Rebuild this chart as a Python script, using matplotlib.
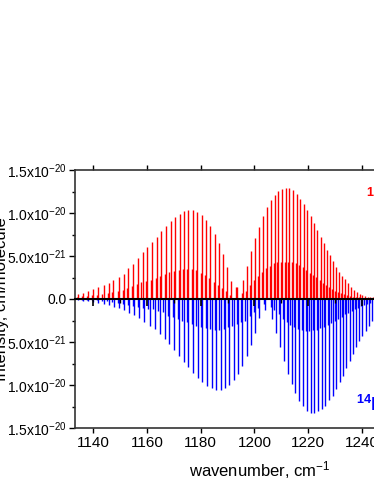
"""Two-isotopologue stick spectrum, mirrored about zero."""

import matplotlib
matplotlib.use("Agg")
import matplotlib.pyplot as plt
import numpy as np
from matplotlib.ticker import FuncFormatter, MultipleLocator

plt.rcParams["font.family"] = ["Liberation Sans", "DejaVu Sans"]
plt.rcParams["mathtext.fontset"] = "custom"
plt.rcParams["mathtext.rm"] = "Liberation Sans"
plt.rcParams["mathtext.it"] = "Liberation Sans:italic"
plt.rcParams["mathtext.bf"] = "Liberation Sans:bold"

SCALE = 1e-21  # intensities below are in units of 1e-21 cm/molecule

# upper panel (red): strong lines
red_main_pos = [
    1134.5, 1136.4, 1138.2, 1140.1, 1141.9, 1143.9, 1145.8, 1147.6, 1149.5, 1151.4,
    1153.1, 1154.8, 1156.6, 1158.4, 1160.2, 1161.9, 1163.8, 1165.4, 1167.2, 1168.8,
    1170.4, 1172.2, 1173.8, 1175.4, 1177.1, 1178.7, 1180.4, 1182.0, 1183.6, 1185.2,
    1186.8, 1188.3, 1189.8, 1191.3, 1193.4, 1195.6, 1197.1, 1198.7, 1200.2, 1201.7,
    1203.2, 1204.6, 1206.1, 1207.5, 1208.8, 1210.2, 1211.6, 1212.9, 1214.4, 1215.8,
    1217.1, 1218.4, 1219.7, 1221.0, 1222.2, 1223.4, 1224.6, 1225.8, 1226.9, 1228.1,
    1229.2, 1230.4, 1231.5, 1232.6, 1233.7, 1234.8, 1235.9, 1237.0, 1238.0, 1239.1,
    1240.1, 1241.1, 1242.1, 1243.1, 1244.1,
]
red_main_int = [
    0.58, 0.74, 0.93, 1.12, 1.36, 1.63, 1.9, 2.17, 2.6, 2.9,
    3.57, 4.1, 4.73, 5.43, 6.0, 6.6, 7.25, 7.9, 8.5, 9.07,
    9.53, 9.9, 10.2, 10.35, 10.35, 10.1, 9.77, 9.2, 8.5, 7.56,
    6.47, 5.2, 3.7, 2.1, 1.36, 2.2, 3.84, 5.58, 7.05, 8.37,
    9.65, 10.66, 11.5, 12.13, 12.6, 12.83, 12.94, 12.87, 12.7, 12.2,
    11.67, 11.05, 10.35, 9.65, 8.88, 8.02, 7.25, 6.47, 5.7, 5.12,
    4.38, 3.76, 3.17, 2.67, 2.29, 1.82, 1.43, 1.05, 0.78, 0.58,
    0.43, 0.35, 0.27, 0.23, 0.2,
]

# upper panel (red): weak lines
red_weak_pos = [
    1134.1, 1136.0, 1137.8, 1139.7, 1141.5, 1143.5, 1145.4, 1147.2, 1149.1, 1151.0,
    1152.7, 1154.4, 1156.2, 1158.0, 1159.8, 1161.5, 1163.4, 1165.0, 1166.8, 1168.4,
    1170.0, 1171.8, 1173.4, 1175.0, 1176.7, 1178.3, 1180.0, 1181.6, 1183.2, 1184.8,
    1186.4, 1187.9, 1189.4, 1190.9, 1193.0, 1195.2, 1196.7, 1198.3, 1199.8, 1201.3,
    1202.8, 1204.2, 1205.7, 1207.1, 1208.4, 1209.8, 1211.2, 1212.5, 1214.0, 1215.4,
    1216.7, 1218.0, 1219.3, 1220.6, 1221.8, 1223.0, 1224.2, 1225.4, 1226.5, 1227.7,
    1228.8, 1230.0, 1231.1, 1232.2, 1233.3, 1234.4, 1235.5, 1236.6, 1237.6, 1238.7,
    1239.7, 1240.7, 1241.7, 1242.7, 1243.7,
]
red_weak_int = [
    0.25, 0.3, 0.36, 0.43, 0.5, 0.6, 0.7, 0.82, 0.95, 1.1,
    1.28, 1.48, 1.7, 1.92, 2.1, 2.25, 2.48, 2.67, 2.9, 3.1,
    3.26, 3.37, 3.45, 3.49, 3.45, 3.37, 3.06, 2.79, 2.48, 2.01,
    1.6, 1.25, 0.9, 0.46, 1.4, 0.66, 0.97, 1.63, 2.2, 2.67,
    3.17, 3.57, 3.84, 4.15, 4.26, 4.3, 4.34, 4.34, 4.3, 4.15,
    3.95, 3.68, 3.37, 3.06, 2.79, 2.52, 2.2, 1.9, 1.63, 1.43,
    1.2, 0.97, 0.81, 0.66, 0.54, 0.43, 0.35, 0.27, 0.23, 0.2,
    0.15, 0.12, 0.1, 0.08, 0.07,
]

# lower panel (blue, drawn downward): strong lines
blue_main_pos = [
    1134.4, 1136.3, 1138.2, 1140.1, 1142.0, 1143.9, 1145.8, 1147.7, 1149.6, 1151.5,
    1153.4, 1155.3, 1157.2, 1159.1, 1161.0, 1162.9, 1164.8, 1166.6, 1168.3, 1170.1,
    1171.9, 1173.7, 1175.4, 1177.1, 1178.9, 1180.6, 1182.3, 1184.1, 1185.8, 1187.4,
    1189.0, 1190.6, 1192.3, 1193.9, 1195.5, 1197.1, 1198.7, 1200.2, 1201.8, 1203.9,
    1206.6, 1207.9, 1209.5, 1211.0, 1212.5, 1213.8, 1215.2, 1216.7, 1218.1, 1219.5,
    1220.9, 1222.2, 1223.6, 1225.0, 1226.3, 1227.7, 1229.1, 1230.4, 1231.7, 1232.9,
    1234.1, 1235.4, 1236.6, 1237.8, 1238.9, 1240.1, 1241.3, 1242.4, 1243.6,
]
blue_main_int = [
    0.12, 0.18, 0.25, 0.33, 0.42, 0.55, 0.7, 0.88, 1.08, 1.3,
    1.58, 1.9, 2.25, 2.65, 3.1, 3.5, 4.07, 4.65, 5.23, 5.93,
    6.59, 7.29, 7.94, 8.64, 9.19, 9.69, 10.08, 10.38, 10.58, 10.58,
    10.4, 10.0, 9.4, 8.7, 7.8, 6.6, 5.3, 3.9, 2.2, 1.3,
    2.3, 3.9, 5.6, 7.2, 8.7, 9.9, 10.97, 11.9, 12.4, 12.98,
    13.2, 13.26, 13.06, 12.8, 12.4, 11.8, 11.24, 10.46, 9.69, 8.92,
    8.02, 7.17, 6.4, 5.62, 4.85, 4.26, 3.68, 3.1, 2.52,
]

# lower panel (blue): weak lines
blue_weak_pos = [
    1133.9, 1135.8, 1137.7, 1139.6, 1141.5, 1143.4, 1145.3, 1147.2, 1149.1, 1151.0,
    1152.9, 1154.8, 1156.7, 1158.6, 1160.5, 1162.4, 1164.3, 1166.1, 1167.8, 1169.6,
    1171.4, 1173.2, 1174.9, 1176.6, 1178.4, 1180.1, 1181.8, 1183.6, 1185.3, 1186.9,
    1188.5, 1190.1, 1191.8, 1193.4, 1195.0, 1196.6, 1198.2, 1199.7, 1201.3, 1203.5,
    1206.1, 1207.4, 1209.0, 1210.5, 1212.0, 1213.3, 1214.7, 1216.2, 1217.6, 1219.0,
    1220.4, 1221.7, 1223.1, 1224.5, 1225.8, 1227.2, 1228.6, 1229.9, 1231.2, 1232.4,
    1233.6, 1234.9, 1236.1, 1237.3, 1238.4, 1239.6, 1240.8, 1241.9, 1243.1,
]
blue_weak_int = [
    0.05, 0.08, 0.1, 0.13, 0.17, 0.22, 0.28, 0.35, 0.45, 0.55,
    0.68, 0.82, 0.98, 1.1, 1.16, 1.2, 1.36, 1.55, 1.94, 2.1,
    2.33, 2.52, 2.71, 2.9, 3.1, 3.3, 3.4, 3.5, 3.57, 3.57,
    3.5, 3.3, 3.1, 2.9, 2.7, 2.5, 1.94, 1.55, 1.0, 0.6,
    0.9, 1.3, 1.8, 2.3, 2.7, 3.0, 3.3, 3.5, 3.65, 3.7,
    3.7, 3.65, 3.55, 3.4, 3.2, 3.0, 2.8, 2.55, 2.3, 2.05,
    1.8, 1.6, 1.4, 1.2, 1.0, 0.85, 0.7, 0.58, 0.47,
]

RED = "#ff0000"
BLUE = "#0000ff"
LW = 1.0


def sci_label(v, pos):
    if abs(v) < 1e-30:
        return "0.0"
    v = abs(v)
    exp = int(np.floor(np.log10(v) + 1e-9))
    return rf"{v / 10**exp:.1f}x10$^{{{exp}}}$"


fig = plt.figure(figsize=(3.74, 4.84), dpi=100)
# the original chart is cropped on the right, so the axes run past the figure edge
ax = fig.add_axes([75 / 374, 56 / 484, 370 / 374, 258 / 484])

ax.vlines(red_main_pos, 0, np.array(red_main_int) * SCALE, color=RED, lw=LW)
ax.vlines(red_weak_pos, 0, np.array(red_weak_int) * SCALE, color=RED, lw=LW)
ax.vlines(blue_main_pos, -np.array(blue_main_int) * SCALE, 0, color=BLUE, lw=LW)
ax.vlines(blue_weak_pos, -np.array(blue_weak_int) * SCALE, 0, color=BLUE, lw=LW)

ax.set_xlim(1133.3, 1270.8)
ax.set_ylim(-1.5e-20, 1.5e-20)

# zero line with its own ticks
zax = ax.twiny()
zax.set_xlim(ax.get_xlim())
for side in ("top", "left", "right"):
    zax.spines[side].set_visible(False)
zax.spines["bottom"].set_position(("data", 0))
zax.spines["bottom"].set_linewidth(1.5)
zax.spines["bottom"].set_color("black")
zax.xaxis.set_ticks_position("bottom")
zax.xaxis.set_major_locator(MultipleLocator(20))
zax.xaxis.set_minor_locator(MultipleLocator(10))
zax.tick_params(axis="x", which="major", direction="out", length=5, width=1.2,
                labelbottom=False, labeltop=False)
zax.tick_params(axis="x", which="minor", direction="out", length=3, width=1.0)

for side in ("left", "bottom", "top", "right"):
    ax.spines[side].set_linewidth(1.2)
    ax.spines[side].set_color("#333333")

ax.xaxis.set_major_locator(MultipleLocator(20))
ax.yaxis.set_major_locator(MultipleLocator(5e-21))
ax.yaxis.set_minor_locator(MultipleLocator(2.5e-21))
ax.yaxis.set_major_formatter(FuncFormatter(sci_label))
ax.tick_params(axis="x", which="major", direction="out", length=3.5, width=1,
               top=True, labeltop=False, labelsize=11, pad=2)
ax.tick_params(axis="y", which="major", direction="out", length=4, width=1,
               labelsize=10, pad=2)
ax.tick_params(axis="y", which="minor", direction="out", length=2, width=1)

ax.set_xlabel(r"wavenumber, cm$^{-1}$", fontsize=12)
ax.xaxis.set_label_coords(0.5, -0.12)
ax.set_ylabel("Intensity, cm/molecule", fontsize=12)
ax.yaxis.set_label_coords(-0.178, 0.5)

ax.text(1241.6, 11.0e-21, r"$^{\mathbf{15}}\mathbf{N}_{\mathbf{2}}\mathbf{O}$",
        color=RED, fontsize=13, ha="left", va="baseline")
ax.text(1237.8, -13.0e-21, r"$^{\mathbf{14}}\mathbf{N}_{\mathbf{2}}\mathbf{O}$",
        color=BLUE, fontsize=13, ha="left", va="baseline")

fig.savefig("out.png", dpi=100)
